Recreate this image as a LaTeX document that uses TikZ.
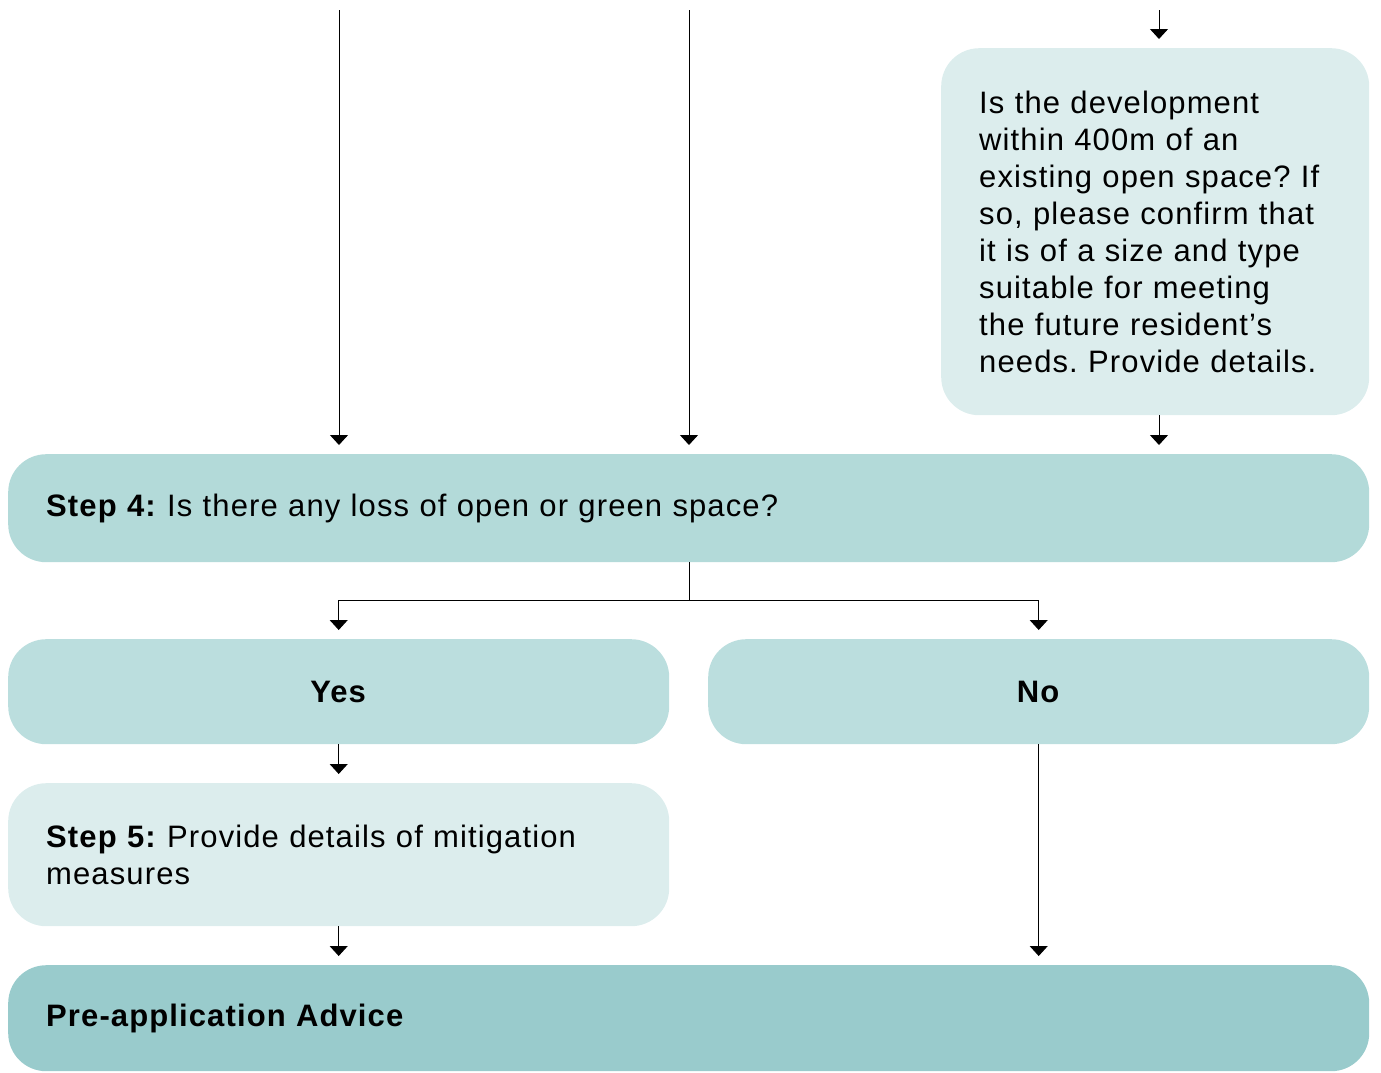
\documentclass[tikz,border=0pt]{standalone}
\usepackage{fontspec}
\setmainfont{Liberation Sans}[LetterSpace=3.6]
\usetikzlibrary{arrows.meta}
\definecolor{boxlight}{HTML}{DCEDED}
\definecolor{boxmid}{HTML}{B3DAD9}
\definecolor{boxyn}{HTML}{BBDEDE}
\definecolor{boxdark}{HTML}{99CBCC}
\frenchspacing
\tikzset{
  arr/.style={draw=black, line width=1pt, -{Triangle[width=18pt,length=10pt]}, shorten >=9pt},
  plain/.style={draw=black, line width=1pt},
  box/.style={rectangle, rounded corners=38pt, anchor=north west, inner sep=0pt,
    font=\fontsize{31}{37}\selectfont},
  leftbox/.style={box, inner xsep=38pt, align=left},
}
\begin{document}
\begin{tikzpicture}[x=1pt,y=-1pt]
\useasboundingbox (0,0) rectangle (1381,1072);
% boxes
\node[leftbox, fill=boxlight, minimum width=428pt, minimum height=367pt, text width=352pt]
  (q) at (941,48) {Is the development\\within 400m of an\\existing open space? If\\so, please confirm that\\it is of a size and type\\suitable for meeting\\the future resident’s\\needs. Provide details.};
\node[leftbox, fill=boxmid, minimum width=1361pt, minimum height=108pt, text width=1285pt]
  (step4) at (8,454) {\textbf{Step 4:} Is there any loss of open or green space?};
\node[box, fill=boxyn, minimum width=661pt, minimum height=105pt]
  (yes) at (8,639) {\textbf{Yes}};
\node[box, fill=boxyn, minimum width=661pt, minimum height=105pt]
  (no) at (708,639) {\textbf{No}};
\node[leftbox, fill=boxlight, minimum width=661pt, minimum height=143pt, text width=585pt]
  (step5) at (8,783) {\textbf{Step 5:} Provide details of mitigation\\measures};
\node[leftbox, fill=boxdark, minimum width=1361pt, minimum height=106pt, text width=1285pt]
  (pre) at (8,965) {\textbf{Pre-application Advice}};
% incoming lines
\coordinate (in1) at (339,10);
\coordinate (in2) at (689,10);
\coordinate (in3) at (1159,10);
\draw[arr] (in1) -- (in1 |- step4.north);
\draw[arr] (in2) -- (in2 |- step4.north);
\draw[arr] (in3) -- (q.north -| in3);
\draw[arr] (q.south -| in3) -- (step4.north -| in3);
% split
\coordinate (split) at (689,600);
\draw[plain] (step4.south -| split) -- (split);
\draw[arr] (split) -| (yes.north);
\draw[arr] (split) -| (no.north);
\draw[arr] (yes.south) -- (step5.north);
\draw[arr] (step5.south) -- (step5.south |- pre.north);
\draw[arr] (no.south) -- (no.south |- pre.north);
\end{tikzpicture}
\end{document}
